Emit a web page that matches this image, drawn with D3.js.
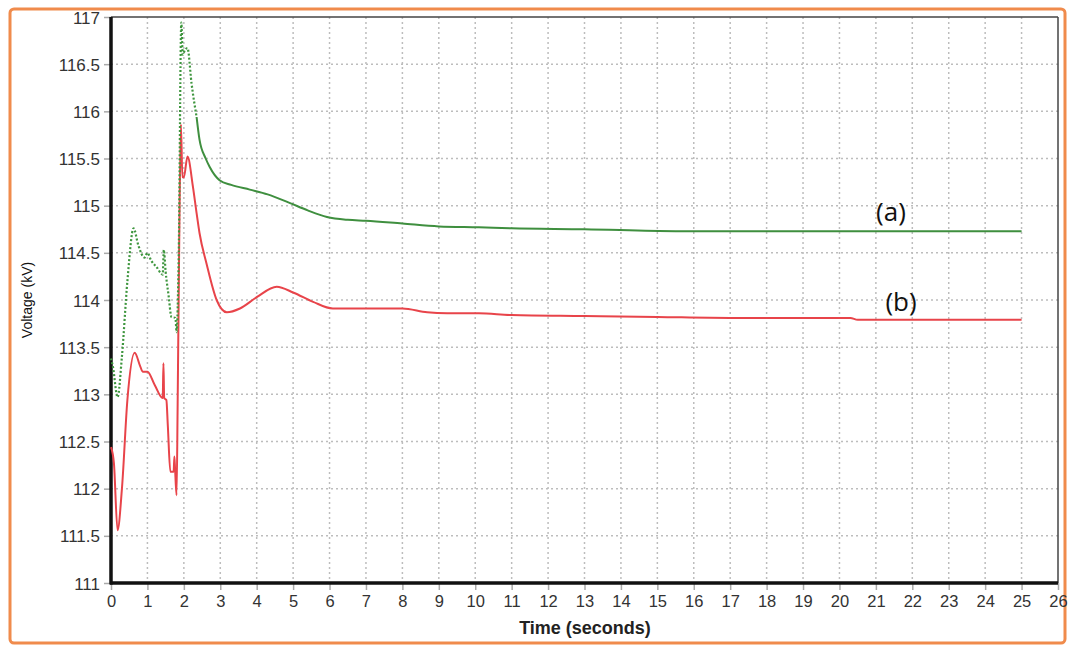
<!DOCTYPE html>
<html>
<head>
<meta charset="utf-8">
<script src="https://cdn.jsdelivr.net/npm/d3@7"></script>
<style>
  body { margin: 0; background: #fff; }
  .tick text { fill: #333; font-family: "Liberation Sans", Arial, sans-serif; }
  .grid line { stroke: #bdbdbd; stroke-width: 1.5; stroke-dasharray: 2,3; }
</style>
</head>
<body>
<svg id="chart"></svg>
<script>
'use strict';

// (a) upper trace, green
var timeA = [0, 0.05, 0.18, 0.3, 0.45, 0.62, 0.75, 0.92, 1.0, 1.1, 1.25, 1.42, 1.45, 1.5, 1.58, 1.66, 1.77, 1.8, 1.86,
    1.93, 1.97, 2.03, 2.1, 2.21, 2.35, 2.43, 2.6, 2.71, 2.98, 3.3, 3.81, 4.3, 4.9, 5.4, 5.93, 6.5, 7.0, 8.0, 9.0, 10.1,
    11, 13, 15.5, 20, 25];
var voltA = [113.38, 113.3, 112.97, 113.4, 114.2, 114.76, 114.58, 114.45, 114.5, 114.42, 114.35, 114.27, 114.53, 114.3,
    114.05, 113.82, 113.81, 113.66, 114.5, 116.94, 116.6, 116.65, 116.67, 116.3, 115.94, 115.7, 115.5, 115.41, 115.27,
    115.22, 115.17, 115.12, 115.03, 114.95, 114.88, 114.85, 114.84, 114.81, 114.78, 114.77, 114.76, 114.75, 114.73,
    114.73, 114.73];
var dottedUntil = 2.35;

// (b) lower trace, red
var timeB = [0, 0.08, 0.18, 0.3, 0.45, 0.65, 0.8, 0.87, 1.0, 1.2, 1.42, 1.44, 1.46, 1.52, 1.56, 1.63, 1.72, 1.74, 1.76,
    1.8, 1.83, 1.87, 1.92, 1.96, 2.0, 2.1, 2.25, 2.35, 2.43, 2.62, 2.9, 3.18, 3.54, 4.0, 4.55, 5.0, 5.55, 6.09, 7.0, 8.0,
    8.68, 9.23, 10.1, 11, 13, 15, 17, 20.3, 20.5, 25];
var voltB = [112.44, 112.27, 111.56, 112.0, 112.94, 113.44, 113.3, 113.24, 113.24, 113.1, 112.96, 113.33, 112.96, 112.94,
    112.67, 112.18, 112.18, 112.34, 112.2, 111.93, 112.9, 114.5, 115.86, 115.3, 115.3, 115.52, 115.2, 114.92, 114.71,
    114.39, 114.0, 113.87, 113.91, 114.03, 114.14, 114.08, 113.98, 113.91, 113.91, 113.91, 113.87, 113.86, 113.86,
    113.84, 113.83, 113.82, 113.81, 113.81, 113.79, 113.79];

var xTicks = d3.range(0, 27);
var yTicks = [111, 111.5, 112, 112.5, 113, 113.5, 114, 114.5, 115, 115.5, 116, 116.5, 117];

var W = 1071, H = 646;
var margin = {top: 17, right: 13, bottom: 63, left: 111},
    width = W - margin.left - margin.right,
    height = H - margin.top - margin.bottom;

var svg = d3.select('#chart')
    .attr('width', W)
    .attr('height', H);

svg.append('rect').attr('width', W).attr('height', H).attr('fill', '#fff');

// Orange frame
svg.append('rect')
    .attr('x', 10).attr('y', 9)
    .attr('width', 1055).attr('height', 634)
    .attr('rx', 4)
    .attr('fill', 'none')
    .attr('stroke', '#f08b4c')
    .attr('stroke-width', 3);

var chart = svg.append('g')
    .attr('transform', 'translate(' + margin.left + ',' + margin.top + ')');

var x = d3.scaleLinear().domain([0, 26]).range([0, width]);
var y = d3.scaleLinear().domain([111, 117]).range([height, 0]);

// Grid
chart.append('g')
    .attr('class', 'grid')
    .selectAll('line')
    .data(xTicks.slice(1, -1))
    .enter().append('line')
    .attr('x1', function(d) { return x(d); })
    .attr('x2', function(d) { return x(d); })
    .attr('y1', 0)
    .attr('y2', height);

chart.append('g')
    .attr('class', 'grid')
    .selectAll('line')
    .data(yTicks.slice(1, -1))
    .enter().append('line')
    .attr('x1', 0)
    .attr('x2', width)
    .attr('y1', function(d) { return y(d); })
    .attr('y2', function(d) { return y(d); });

// X Axis Ticks
var xAxis = chart.append('g')
    .attr('transform', 'translate(0,' + height + ')')
    .call(d3.axisBottom(x).tickValues(xTicks).tickSize(7).tickPadding(5).tickFormat(String));
xAxis.select('.domain').remove();
xAxis.selectAll('line').attr('stroke', '#aaa').attr('stroke-width', 1.5);
xAxis.selectAll('text').style('font-size', '16.5px');

// Y Axis Ticks
var yAxis = chart.append('g')
    .call(d3.axisLeft(y).tickValues(yTicks).tickSize(7).tickPadding(4).tickFormat(String));
yAxis.select('.domain').remove();
yAxis.selectAll('line').attr('stroke', '#aaa').attr('stroke-width', 1.5);
yAxis.selectAll('text').style('font-size', '17px').attr('dy', '0.36em');

// Plot border
chart.append('line').attr('x1', 0).attr('x2', width).attr('y1', 0).attr('y2', 0)
    .attr('stroke', '#444').attr('stroke-width', 1.5);
chart.append('line').attr('x1', width).attr('x2', width).attr('y1', 0).attr('y2', height)
    .attr('stroke', '#444').attr('stroke-width', 1.5);
chart.append('line').attr('x1', -1).attr('x2', width).attr('y1', height).attr('y2', height)
    .attr('stroke', '#111').attr('stroke-width', 3.5);
chart.append('line').attr('x1', 0).attr('x2', 0).attr('y1', 0).attr('y2', height + 1.5)
    .attr('stroke', '#111').attr('stroke-width', 3.5);

// Lines
var line = d3.line()
    .curve(d3.curveMonotoneX)
    .x(function(d) { return x(d[0]); })
    .y(function(d) { return y(d[1]); });

var seriesA = timeA.map(function(t, i) { return [t, voltA[i]]; });
var seriesB = timeB.map(function(t, i) { return [t, voltB[i]]; });

chart.append('path')
    .datum(seriesB)
    .attr('d', line)
    .attr('fill', 'none')
    .attr('stroke', '#e8444a')
    .attr('stroke-width', 2)
    .attr('stroke-linejoin', 'round');

chart.append('path')
    .datum(seriesA.filter(function(d) { return d[0] <= dottedUntil; }))
    .attr('d', line)
    .attr('fill', 'none')
    .attr('stroke', '#3f963f')
    .attr('stroke-width', 2.2)
    .attr('stroke-dasharray', '2,2');

chart.append('path')
    .datum(seriesA.filter(function(d) { return d[0] >= dottedUntil; }))
    .attr('d', line)
    .attr('fill', 'none')
    .attr('stroke', '#3f8f3f')
    .attr('stroke-width', 2)
    .attr('stroke-linejoin', 'round');

// Labels
svg.append('text')
    .attr('x', 585).attr('y', 634)
    .attr('text-anchor', 'middle')
    .style('font-family', '"Liberation Sans", Arial, sans-serif')
    .style('font-weight', 'bold')
    .style('font-size', '18px')
    .attr('fill', '#222')
    .text('Time (seconds)');

svg.append('text')
    .attr('transform', 'translate(32,300) rotate(-90)')
    .attr('text-anchor', 'middle')
    .style('font-family', '"Liberation Sans", Arial, sans-serif')
    .style('font-size', '14px')
    .attr('fill', '#111')
    .text('Voltage (kV)');

svg.append('text')
    .attr('x', 891).attr('y', 221)
    .attr('text-anchor', 'middle')
    .style('font-family', '"Open Sans", sans-serif')
    .style('font-size', '26px')
    .attr('fill', '#111')
    .text('(a)');

svg.append('text')
    .attr('x', 901).attr('y', 311)
    .attr('text-anchor', 'middle')
    .style('font-family', '"Open Sans", sans-serif')
    .style('font-size', '26px')
    .attr('fill', '#111')
    .text('(b)');
</script>
</body>
</html>
